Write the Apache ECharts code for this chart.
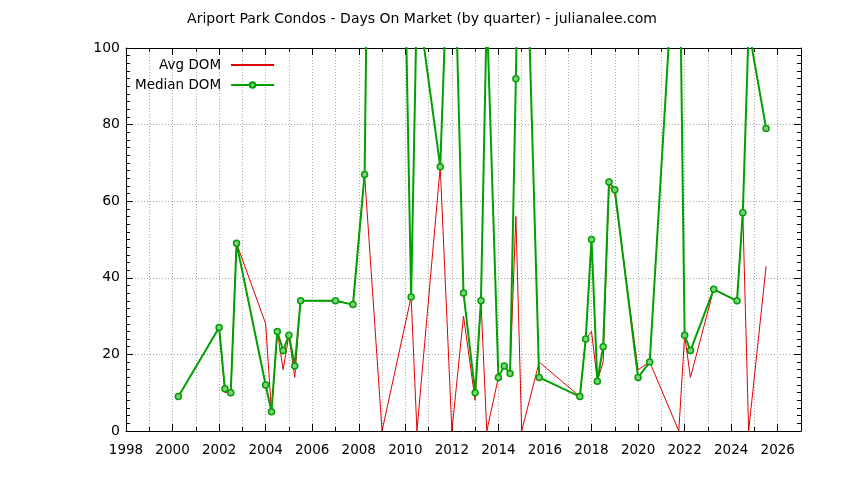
<!DOCTYPE html>
<html>
<head>
<meta charset="UTF-8">
<title>Ariport Park Condos - Days On Market</title>
<script src="https://cdn.jsdelivr.net/npm/echarts@6/dist/echarts.min.js"></script>
<style>
  * {margin: 0; padding: 0;}
  body {background: #fff;}
  #chart {width: 844px; height: 480px;}
</style>
</head>
<body>
<div id="chart"></div>
<script>
// quarter start (decimal year)
var quarters = [2000.25, 2002.0, 2002.25, 2002.5, 2002.75, 2004.0, 2004.25, 2004.5, 2004.75, 2005.0,
                2005.25, 2005.5, 2007.0, 2007.75, 2008.25, 2009.0, 2010.25, 2010.5, 2011.5, 2012.0,
                2012.5, 2013.0, 2013.25, 2013.5, 2014.0, 2014.25, 2014.5, 2014.75, 2015.0, 2015.75,
                2017.5, 2017.75, 2018.0, 2018.25, 2018.5, 2018.75, 2019.0, 2020.0, 2020.5, 2021.75,
                2022.0, 2022.25, 2023.25, 2024.25, 2024.5, 2024.75, 2025.5];
var avgDom = [9, 27, 10, 10, 49, 28, 5, 26, 16, 25,
              14, 34, 34, 33, 67, 0, 35, 0, 69, 0,
              30, 8, 34, 0, 14, 17, 15, 56, 0, 18,
              9, 24, 26, 13, 18, 64, 62, 16, 18, 0,
              25, 14, 37, 34, 57, 0, 43];
var medianDom = [9, 27, 11, 10, 49, 12, 5, 26, 21, 25,
                 17, 34, 34, 33, 67, 440, 35, 114, 69, 154,
                 36, 10, 34, 110, 14, 17, 15, 92, 174, 14,
                 9, 24, 50, 13, 22, 65, 63, 14, 18, 145,
                 25, 21, 37, 34, 57, 105, 79];

var FONT = 'DejaVu Sans';
var chart = echarts.init(document.getElementById('chart'), null, {renderer: 'canvas'});

function pairs(ys) {
    var out = [];
    for (var i = 0; i < quarters.length; i++) out.push([quarters[i], ys[i]]);
    return out;
}

var frame = {show: true, lineStyle: {color: '#000', width: 1}};
var gridLine = {color: '#a8a8a8', width: 1, type: [1, 2]};

function xAx(pos, interval, major) {
    return {
        type: 'value', position: pos, min: 1998, max: 2027, interval: interval,
        axisLine: major ? frame : {show: false},
        axisTick: {show: true, inside: true, length: major ? 7 : 4, lineStyle: {color: '#000'}},
        axisLabel: {
            show: major && pos === 'bottom', margin: 12, color: '#000', fontSize: 13.5, fontFamily: FONT,
            formatter: function (v) { return (v % 2 === 0 && v < 2027) ? String(v) : ''; }
        },
        splitLine: major ? {show: false} : {show: true, lineStyle: gridLine}
    };
}

function yAx(pos) {
    return {
        type: 'value', position: pos, min: 0, max: 100, interval: 20,
        axisLine: frame,
        axisTick: {show: true, inside: true, length: 7, lineStyle: {color: '#000'}},
        minorTick: {show: true, splitNumber: 10, length: 4, lineStyle: {color: '#000'}},
        axisLabel: {show: pos === 'left', margin: 6, color: '#000', fontSize: 14, fontFamily: FONT},
        splitLine: {show: pos === 'left', lineStyle: gridLine}
    };
}

var option = {
    animation: false,
    backgroundColor: '#fff',
    title: {
        text: 'Ariport Park Condos - Days On Market (by quarter) - julianalee.com',
        left: 'center', top: 12, padding: 0,
        textStyle: {fontSize: 14, fontWeight: 'normal', color: '#000', fontFamily: FONT}
    },
    legend: {
        orient: 'vertical', align: 'right', left: 135, top: 58, padding: 0,
        itemWidth: 43, itemHeight: 7, itemGap: 6,
        textStyle: {fontSize: 13.5, color: '#000', fontFamily: FONT, lineHeight: 14, padding: [0, 5, 0, 0]},
        data: [
            {name: 'Avg DOM', itemStyle: {opacity: 0}},
            {name: 'Median DOM'}
        ]
    },
    grid: {left: 126, right: 43, top: 48, bottom: 49, containLabel: false},
    xAxis: [xAx('bottom', 2, true), xAx('bottom', 1, false), xAx('top', 2, true), xAx('top', 1, false)],
    yAxis: [yAx('left'), yAx('right')],
    series: [
        {
            name: 'Avg DOM', type: 'line', xAxisIndex: 0, yAxisIndex: 0,
            data: pairs(avgDom), symbol: 'none', clip: true,
            lineStyle: {color: '#e00000', width: 1}, itemStyle: {color: '#e00000'}
        },
        {
            name: 'Median DOM', type: 'line', xAxisIndex: 0, yAxisIndex: 0,
            data: pairs(medianDom), symbol: 'circle', symbolSize: 6, clip: true,
            lineStyle: {color: '#00a000', width: 2},
            itemStyle: {color: '#7fd07f', borderColor: '#00a000', borderWidth: 1.5}
        }
    ]
};

chart.setOption(option);
</script>
</body>
</html>
